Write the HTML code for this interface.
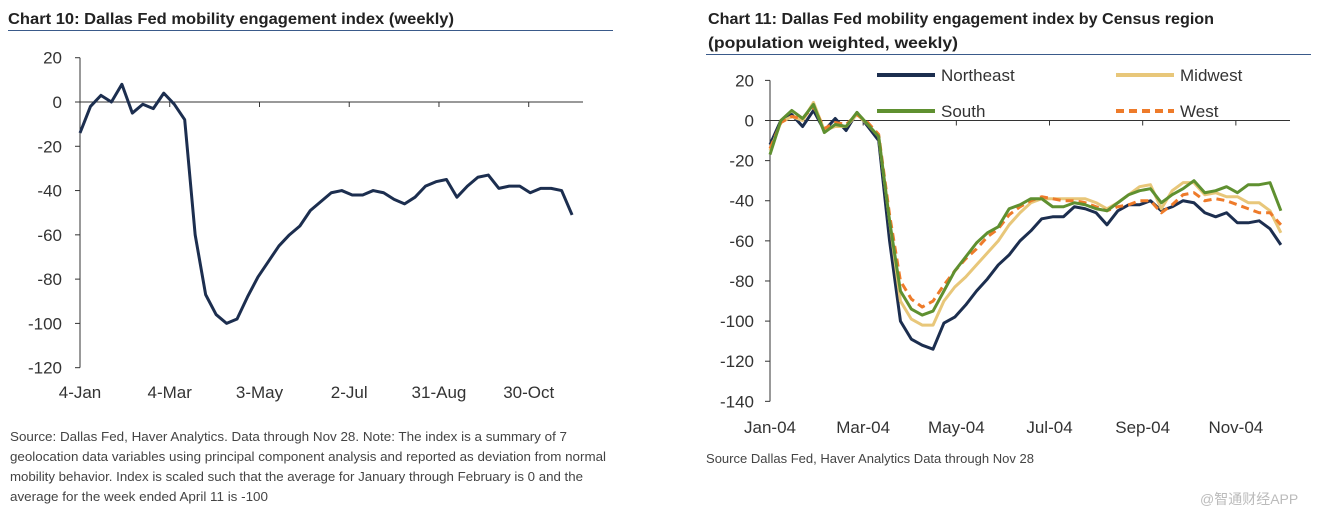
<!DOCTYPE html>
<html><head><meta charset="utf-8"><style>
body{margin:0;background:#fff;}
svg text{font-family:"Liberation Sans","Noto Sans CJK SC",sans-serif;}
</style></head><body>
<svg id="c" width="1317" height="520" viewBox="0 0 1317 520" xmlns="http://www.w3.org/2000/svg">
<text x="8" y="24" font-size="16" font-weight="bold" fill="#222" textLength="446" lengthAdjust="spacingAndGlyphs">Chart 10: Dallas Fed mobility engagement index (weekly)</text>
<line x1="8" y1="30.5" x2="613" y2="30.5" stroke="#3a5a8a" stroke-width="1"/>
<text x="708" y="24" font-size="16" font-weight="bold" fill="#222" textLength="506" lengthAdjust="spacingAndGlyphs">Chart 11: Dallas Fed mobility engagement index by Census region</text>
<text x="708" y="48" font-size="16" font-weight="bold" fill="#222" textLength="250" lengthAdjust="spacingAndGlyphs">(population weighted, weekly)</text>
<line x1="706" y1="54.5" x2="1311" y2="54.5" stroke="#3a5a8a" stroke-width="1"/>
<g id="left"></g>
<g id="right"></g>
<g font-size="12.5" fill="#444">
<text x="10" y="441" textLength="557" lengthAdjust="spacingAndGlyphs">Source: Dallas Fed, Haver Analytics. Data through Nov 28. Note: The index is a summary of 7</text>
<text x="10" y="461" textLength="596" lengthAdjust="spacingAndGlyphs">geolocation data variables using principal component analysis and reported as deviation from normal</text>
<text x="10" y="481" textLength="573" lengthAdjust="spacingAndGlyphs">mobility behavior. Index is scaled such that the average for January through February is 0 and the</text>
<text x="10" y="501" textLength="258" lengthAdjust="spacingAndGlyphs">average for the week ended April 11 is -100</text>
</g>
<text x="706" y="463" font-size="12.5" fill="#444" textLength="328" lengthAdjust="spacingAndGlyphs">Source Dallas Fed, Haver Analytics Data through Nov 28</text>
<text x="1200" y="504" font-size="14" fill="#bbb">@智通财经APP</text>
</svg>
<script>
const leftTicks=[20,0,-20,-40,-60,-80,-100,-120];
const leftCats=["4-Jan","4-Mar","3-May","2-Jul","31-Aug","30-Oct"];
const leftCatIdx=[0,60/7,120/7,180/7,240/7,300/7];
const leftVals=[-14,-2,3,0,8,-5,-1,-3,4,-1,-8,-60,-87,-96,-100,-98,-88,-79,-72,-65,-60,-56,-49,-45,-41,-40,-42,-42,-40,-41,-44,-46,-43,-38,-36,-35,-43,-38,-34,-33,-39,-38,-38,-41,-39,-39,-40,-51];

const rightTicks=[20,0,-20,-40,-60,-80,-100,-120,-140];
const rightCats=["Jan-04","Mar-04","May-04","Jul-04","Sep-04","Nov-04"];
const northeast=[-12,0,3,-3,5,-5,1,-5,4,-3,-10,-60,-100,-109,-112,-114,-101,-98,-92,-85,-79,-72,-67,-60,-55,-49,-48,-48,-43,-44,-46,-52,-45,-42,-42,-40,-45,-43,-40,-41,-46,-48,-46,-51,-51,-50,-54,-62];
const midwest=[-15,-1,2,0,9,-5,-3,-3,3,-2,-8,-50,-90,-99,-102,-102,-90,-83,-78,-72,-66,-60,-52,-46,-41,-39,-39,-39,-39,-39,-41,-44,-41,-37,-33,-32,-44,-35,-31,-31,-37,-36,-38,-38,-41,-41,-45,-56];
const south=[-17,0,5,1,8,-6,-2,-3,4,-2,-8,-50,-85,-94,-97,-95,-85,-75,-68,-61,-56,-53,-44,-42,-39,-39,-43,-43,-41,-42,-44,-45,-41,-37,-35,-34,-41,-37,-34,-30,-36,-35,-33,-36,-32,-32,-31,-45];
const west=[-14,-1,2,1,7,-4,-1,-2,3,-1,-7,-47,-80,-89,-93,-90,-82,-75,-69,-64,-58,-54,-47,-43,-40,-38,-39,-40,-40,-41,-43,-45,-43,-42,-40,-40,-46,-42,-37,-36,-40,-39,-40,-42,-44,-46,-46,-52];

const NS='http://www.w3.org/2000/svg';
function mk(p,t,a){const e=document.createElementNS(NS,t);for(const k in a)e.setAttribute(k,a[k]);p.appendChild(e);return e;}

const L=document.getElementById('left');
const lx=i=>80+i*10.47, ly=v=>102-v*2.214;
let e=mk(L,'line',{x1:80,y1:ly(20),x2:80,y2:ly(-120),stroke:'#333','stroke-width':1});


e=mk(L,'line',{x1:80,y1:ly(0),x2:583,y2:ly(0),stroke:'#333','stroke-width':1});


leftTicks.forEach(v=>{
  mk(L,'line',{x1:75,y1:ly(v),x2:80,y2:ly(v),stroke:'#333'});
  e=mk(L,'text',{x:62,y:ly(v)+6,'font-size':17,'text-anchor':'end',fill:'#333'});
  e.textContent=v;
  
  
});
leftCats.forEach((c,k)=>{
  const x=lx(leftCatIdx[k]);
  if(k>0)mk(L,'line',{x1:x,y1:ly(0),x2:x,y2:ly(0)+5,stroke:'#333'});
  e=mk(L,'text',{x:x,y:398,'font-size':17,'text-anchor':'middle',fill:'#333'});
  e.textContent=c;
  
  
});
e=mk(L,'polyline',{points:leftVals.map((v,i)=>lx(i)+','+ly(v)).join(' '),fill:'none',stroke:'#1c2e4f','stroke-width':3,'stroke-linejoin':'round'});



const R=document.getElementById('right');
const rx=i=>770+i*10.87, ry=v=>120.5-v*2.006;
e=mk(R,'line',{x1:770,y1:ry(20),x2:770,y2:ry(-140),stroke:'#333'});


e=mk(R,'line',{x1:770,y1:ry(0),x2:1290,y2:ry(0),stroke:'#333'});


rightTicks.forEach(v=>{
  mk(R,'line',{x1:765,y1:ry(v),x2:770,y2:ry(v),stroke:'#333'});
  e=mk(R,'text',{x:754,y:ry(v)+6,'font-size':17,'text-anchor':'end',fill:'#333'});
  e.textContent=v;
  
  
});
rightCats.forEach((c,k)=>{
  const x=rx(k*60/7);
  if(k>0)mk(R,'line',{x1:x,y1:ry(0),x2:x,y2:ry(0)+5,stroke:'#333'});
  e=mk(R,'text',{x:x,y:433,'font-size':17,'text-anchor':'middle',fill:'#333'});
  e.textContent=c;
  
  
});
const series=[
 {name:'Northeast',d:northeast,c:'#1c2e4f',dash:null,lx:877,ly:75},
 {name:'Midwest',d:midwest,c:'#e8c77a',dash:null,lx:1116,ly:75},
 {name:'West',d:west,c:'#ee7b2a',dash:'8,5',lx:1116,ly:111},
 {name:'South',d:south,c:'#5f9030',dash:null,lx:877,ly:111}
];
series.forEach(s=>{
  const a={points:s.d.map((v,i)=>rx(i)+','+ry(v)).join(' '),fill:'none',stroke:s.c,'stroke-width':3,'stroke-linejoin':'round'};
  if(s.dash)a['stroke-dasharray']=s.dash;
  e=mk(R,'polyline',a);
  
  
});
series.forEach(s=>{
  const a={x1:s.lx,y1:s.ly,x2:s.lx+58,y2:s.ly,stroke:s.c,'stroke-width':4};
  if(s.dash)a['stroke-dasharray']=s.dash;
  e=mk(R,'line',a);
  
  
  e=mk(R,'text',{x:s.lx+64,y:s.ly+6,'font-size':17,fill:'#333'});
  e.textContent=s.name;
  
  
});
</script>
</body></html>
